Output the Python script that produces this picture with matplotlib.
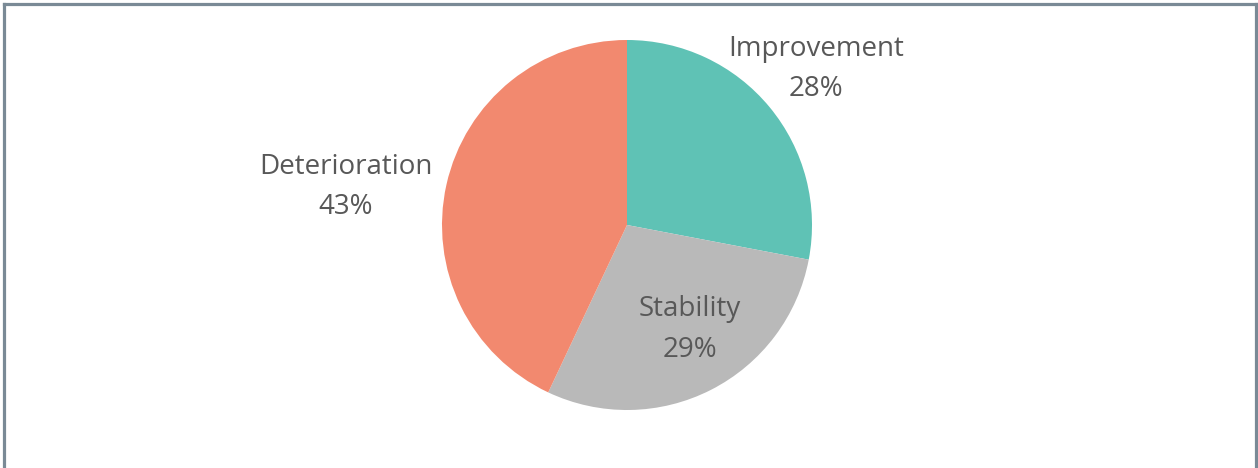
import matplotlib.pyplot as plt

# Datos del gráfico
categorias = ['Improvement', 'Stability', 'Deterioration']
porcentajes = [28, 29, 43]
colores = ['#5fc2b5', '#b9b9b9', '#f2896f']

# Posición de cada etiqueta (unidades del radio)
pos_etiquetas = {
    'Improvement': (1.02, 0.845),
    'Stability': (0.34, -0.565),
    'Deterioration': (-1.52, 0.205),
}

fig = plt.figure(figsize=(12.58, 4.68), dpi=100)
ax = fig.add_axes([0, 0, 1, 1])

ax.pie(porcentajes, colors=colores, startangle=90, counterclock=False,
       radius=1, wedgeprops={'linewidth': 0})

# Escala: radio de 185 px, centro en (627, 225) desde arriba
r_px = 185.0
cx, cy = 627.0, 468 - 225.0
ax.set_xlim(-cx / r_px, (1258 - cx) / r_px)
ax.set_ylim(-cy / r_px, (468 - cy) / r_px)
ax.set_aspect('auto')
ax.axis('off')

for nombre, valor in zip(categorias, porcentajes):
    x, y = pos_etiquetas[nombre]
    ax.text(x, y, f'{nombre}\n{valor}%', ha='center', va='center',
            fontsize=20, family=['Open Sans', 'DejaVu Sans'],
            color='#585858', linespacing=1.58)

# Marco del contenedor (sin borde inferior)
borde = '#7a8a96'
w, h = 1258.0, 468.0
lw = 2.3
fig.add_artist(plt.Line2D([4 / w, 4 / w], [0, 1 - 4 / h],
                          transform=fig.transFigure, color=borde, lw=lw))
fig.add_artist(plt.Line2D([4 / w, 1 - 2 / w], [1 - 4 / h, 1 - 4 / h],
                          transform=fig.transFigure, color=borde, lw=lw))
fig.add_artist(plt.Line2D([1 - 2 / w, 1 - 2 / w], [0, 1 - 4 / h],
                          transform=fig.transFigure, color=borde, lw=lw))

fig.savefig('out.png', dpi=100)
